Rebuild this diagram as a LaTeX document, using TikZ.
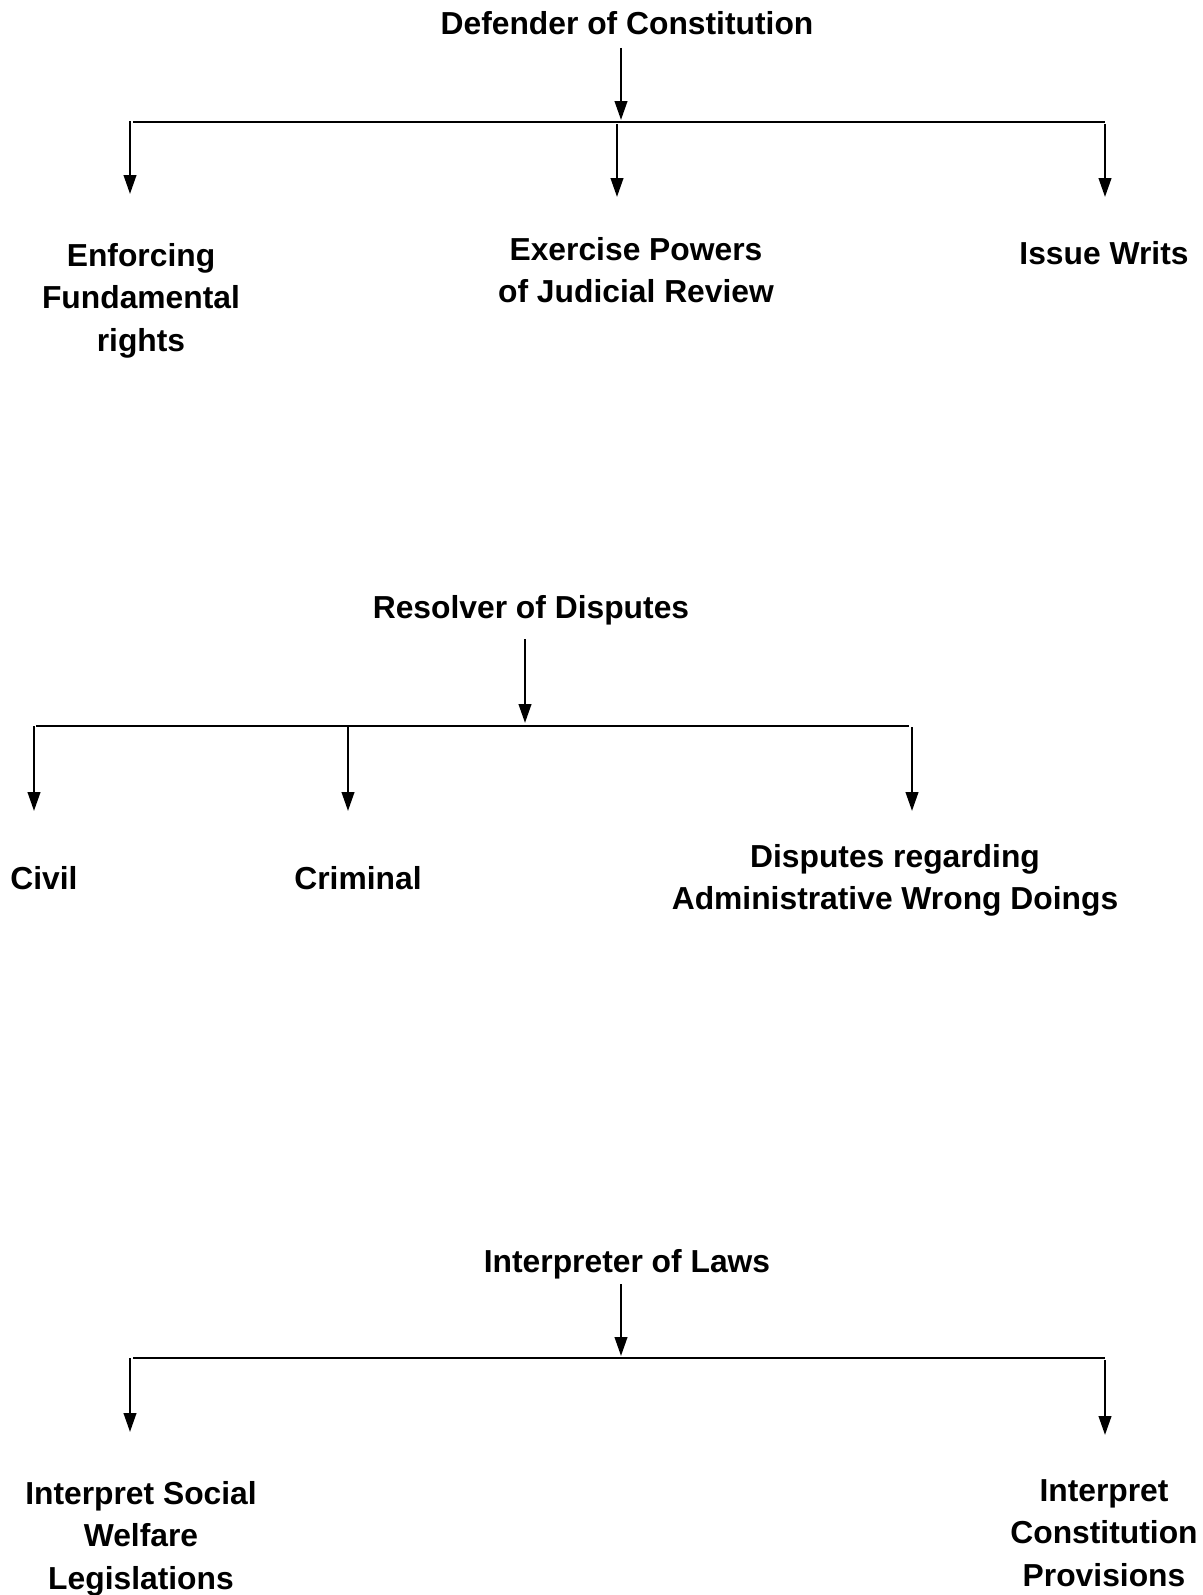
\documentclass[tikz,border=0pt]{standalone}
\usepackage{fontspec}
\setmainfont{Liberation Sans}
\usetikzlibrary{arrows.meta}
\begin{document}
\begin{tikzpicture}[x=1pt,y=-1pt,
  lbl/.style={font=\bfseries\fontsize{31.8}{42.5}\selectfont, inner sep=0pt, align=center, anchor=base},
  bar/.style={line width=2.8pt},
  arr/.style={line width=2.5pt,-{Triangle[length=19pt,width=12.5pt]}}]
\useasboundingbox (0,0) rectangle (1202,1595);
% ---------- Section 1 ----------
\node[lbl] (def) at (627,34.5) {Defender of Constitution};
\node[lbl] (enf) at (141,351) {Enforcing\\Fundamental\\rights};
\node[lbl] (exe) at (636,302.5) {Exercise Powers\\of Judicial Review};
\node[lbl] (iss) at (1104,264) {Issue Writs};
\coordinate (d0) at (621,48);
\coordinate (d1) at (621,120);
\coordinate (bl1) at (133,122);
\coordinate (br1) at (1105,122);
\coordinate (a1) at (130,121);
\coordinate (a1e) at (130,194);
\coordinate (a2) at (617,124);
\coordinate (a2e) at (617,197);
\coordinate (a3) at (1105,124);
\coordinate (a3e) at (1105,197);
\draw[arr] (d0) -- (d1);
\draw[bar] (bl1) -- (br1);
\draw[arr] (a1) -- (a1e);
\draw[arr] (a2) -- (a2e);
\draw[arr] (a3) -- (a3e);
% ---------- Section 2 ----------
\node[lbl] (res) at (531,618) {Resolver of Disputes};
\node[lbl] (civ) at (44,889) {Civil};
\node[lbl] (cri) at (358,889) {Criminal};
\node[lbl] (dis) at (895,909.5) {Disputes regarding\\Administrative Wrong Doings};
\coordinate (r0) at (525,639);
\coordinate (r1) at (525,723);
\coordinate (bl2) at (36,726);
\coordinate (br2) at (909,726);
\coordinate (c1) at (34,726);
\coordinate (c1e) at (34,811);
\coordinate (c2) at (348,726);
\coordinate (c2e) at (348,811);
\coordinate (c3) at (912,727);
\coordinate (c3e) at (912,811);
\draw[arr] (r0) -- (r1);
\draw[bar] (bl2) -- (br2);
\draw[arr] (c1) -- (c1e);
\draw[arr] (c2) -- (c2e);
\draw[arr] (c3) -- (c3e);
% ---------- Section 3 ----------
\node[lbl] (itp) at (627,1272) {Interpreter of Laws};
\node[lbl] (soc) at (141,1589) {Interpret Social\\Welfare\\Legislations};
\node[lbl] (con) at (1104,1586) {Interpret\\Constitution\\Provisions};
\coordinate (i0) at (621,1284);
\coordinate (i1) at (621,1356);
\coordinate (bl3) at (133,1358);
\coordinate (br3) at (1105,1358);
\coordinate (e1) at (130,1358);
\coordinate (e1e) at (130,1432);
\coordinate (e2) at (1105,1360);
\coordinate (e2e) at (1105,1435);
\draw[arr] (i0) -- (i1);
\draw[bar] (bl3) -- (br3);
\draw[arr] (e1) -- (e1e);
\draw[arr] (e2) -- (e2e);
\end{tikzpicture}
\end{document}
